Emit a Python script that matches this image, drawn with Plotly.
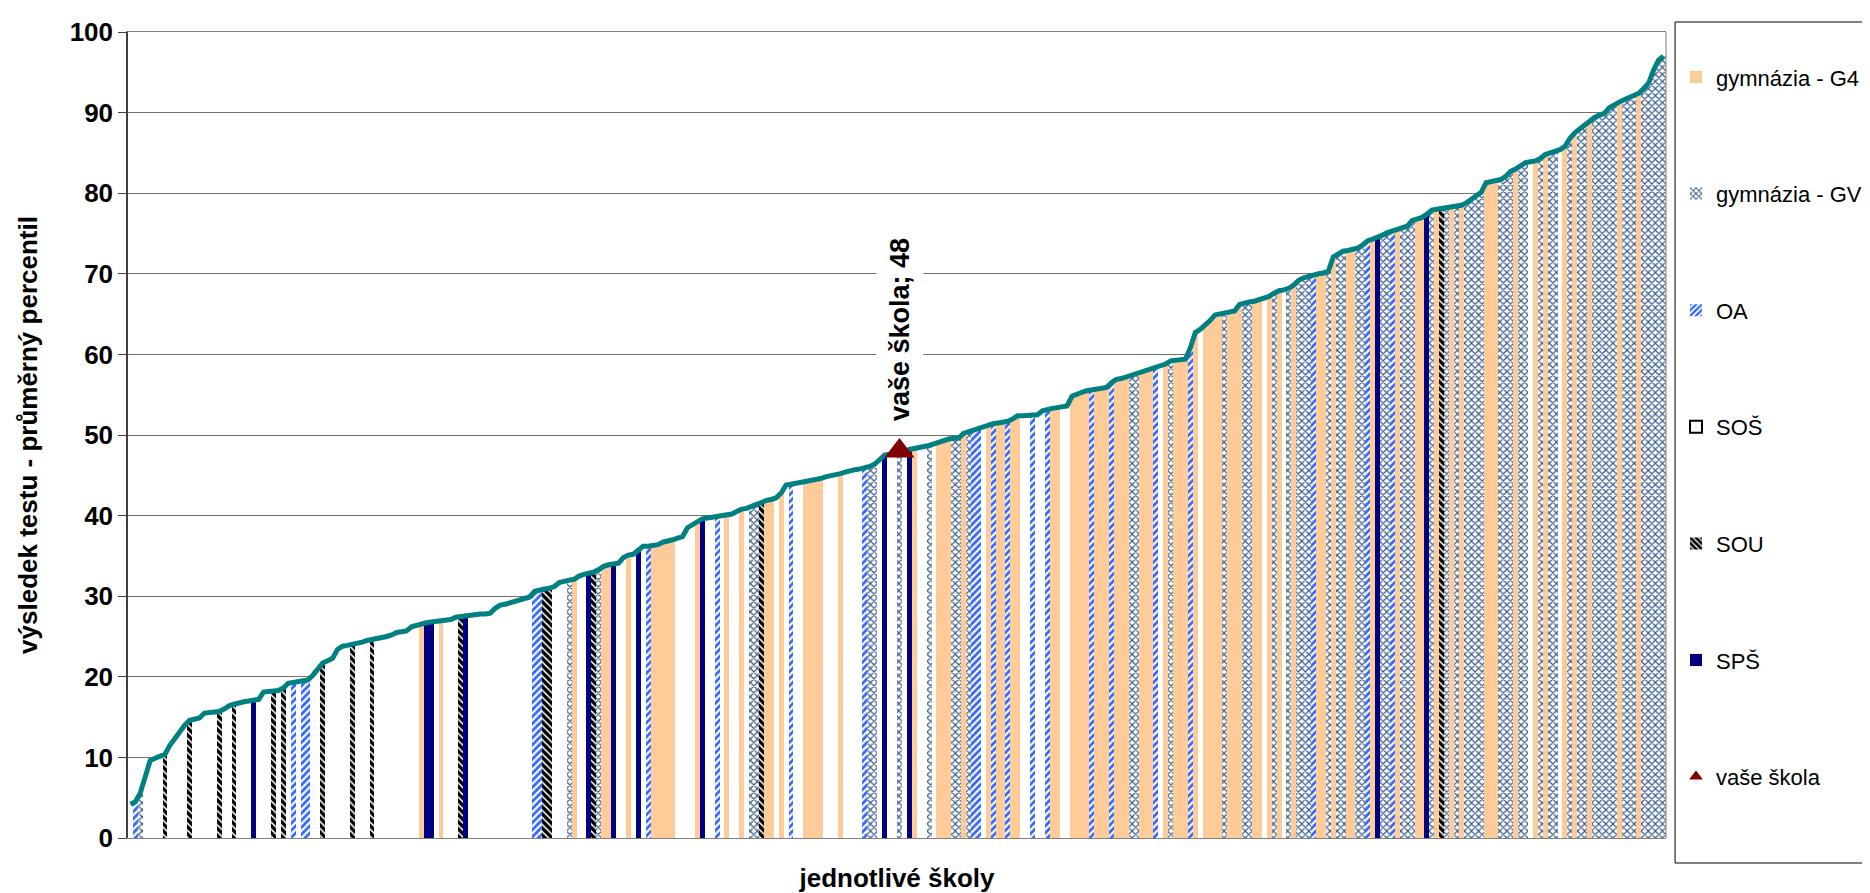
import plotly.graph_objects as go

# ---------------- data ----------------
# average percentile of each school, sorted ascending (one value per school)
school_scores = [
    4.2, 4.5, 5.6, 7.6, 9.6, 9.9, 10.1, 10.4, 11.5, 12.4,
    13.3, 14.0, 14.6, 14.8, 14.9, 15.5, 15.6, 15.7, 15.7, 16.0,
    16.4, 16.6, 16.8, 16.9, 17.0, 17.1, 17.2, 18.1, 18.2, 18.3,
    18.3, 18.6, 19.2, 19.3, 19.4, 19.5, 19.6, 20.2, 20.9, 21.7,
    22.0, 22.3, 23.4, 23.8, 23.9, 24.0, 24.2, 24.3, 24.5, 24.6,
    24.7, 24.9, 25.0, 25.2, 25.5, 25.6, 25.7, 26.2, 26.4, 26.5,
    26.7, 26.8, 26.9, 27.0, 27.0, 27.1, 27.4, 27.5, 27.6, 27.7,
    27.7, 27.8, 27.8, 27.9, 28.5, 28.9, 29.0, 29.2, 29.4, 29.5,
    29.7, 29.9, 30.6, 30.8, 30.9, 31.0, 31.2, 31.7, 31.9, 32.0,
    32.1, 32.5, 32.7, 32.8, 33.0, 33.3, 33.7, 33.9, 34.0, 34.1,
    34.8, 35.1, 35.2, 35.8, 36.2, 36.2, 36.3, 36.4, 36.7, 36.8,
    37.0, 37.2, 37.4, 38.5, 38.9, 39.3, 39.6, 39.7, 39.8, 39.9,
    40.0, 40.1, 40.2, 40.5, 40.8, 40.9, 41.2, 41.4, 41.6, 41.9,
    42.0, 42.2, 42.8, 43.8, 43.9, 44.0, 44.1, 44.2, 44.4, 44.5,
    44.6, 44.8, 44.9, 45.0, 45.2, 45.4, 45.6, 45.7, 45.8, 45.9,
    46.1, 46.4, 47.0, 47.5, 47.6, 47.7, 47.8, 48.0, 48.2, 48.3,
    48.4, 48.5, 48.7, 48.9, 49.1, 49.4, 49.5, 49.6, 49.6, 50.2,
    50.4, 50.6, 50.9, 51.0, 51.2, 51.4, 51.5, 51.6, 51.7, 52.0,
    52.4, 52.4, 52.4, 52.4, 52.5, 53.0, 53.2, 53.3, 53.4, 53.5,
    53.6, 54.8, 55.1, 55.3, 55.5, 55.6, 55.7, 55.8, 55.9, 56.5,
    56.9, 57.0, 57.2, 57.4, 57.6, 57.8, 58.1, 58.2, 58.4, 58.6,
    58.8, 59.2, 59.3, 59.3, 59.4, 60.8, 62.7, 63.1, 63.6, 64.2,
    64.9, 65.0, 65.1, 65.2, 65.4, 66.2, 66.4, 66.5, 66.6, 66.8,
    67.0, 67.2, 67.6, 67.9, 68.0, 68.2, 68.6, 69.2, 69.5, 69.7,
    69.9, 70.0, 70.1, 70.3, 72.1, 72.4, 72.8, 72.9, 73.0, 73.2,
    73.6, 74.1, 74.3, 74.5, 74.8, 75.1, 75.3, 75.5, 75.7, 75.9,
    76.6, 76.8, 77.0, 77.4, 77.9, 78.0, 78.1, 78.2, 78.3, 78.4,
    78.5, 78.8, 79.2, 79.6, 80.1, 81.3, 81.4, 81.5, 81.7, 82.1,
    82.7, 83.0, 83.4, 83.8, 83.9, 84.0, 84.3, 84.8, 85.0, 85.2,
    85.4, 85.8, 86.8, 87.5, 88.0, 88.3, 89.0, 89.4, 89.7, 89.9,
    90.6, 91.0, 91.3, 91.6, 91.9, 92.2, 92.4, 93.0, 93.7, 95.3,
    96.5, 97.0,
]

# school type of each school, same order (G=G4, V=GV, O=OA, S=SOŠ, U=SOU, P=SPŠ)
school_type_codes = (
    "SOVSSSSUSS" "SSUSSSSSUS" "SUSSSPSSSU" "SUSOSOOSSU" "SSSSSUSSSU"
    "SSSSSSSSSG" "PPSGSSSUPS" "SSSSSSSSSS" "SSOOUUSSSV" "GSSPUVGGPS"
    "SGSPSOGGGG" "GSSSSGPSSO" "SGSSGSVVUG" "GSGSOSSGGG" "GSSSGSSSSO"
    "VVSPSSVSPG" "SSVSGGGVVG" "VOOSGOGGOG" "GSSOSSOGGS" "SGGGGOGGGO"
    "GGGVVGGGOS" "GVGGGOGSGG" "GGVGGGVVGG" "SGVGSVGVVV" "OGGVGVVGGV"
    "VOGPVVOGVV" "VGGPVGUVGV" "GVVVVGGGVV" "VGVVSGVGVV" "SGVGVVGVVV"
    "VVGVVVGVVV" "VV"
)

type_order = ["G", "V", "O", "S", "U", "P"]
type_names = {
    "G": "gymnázia - G4",
    "V": "gymnázia - GV",
    "O": "OA",
    "S": "SOŠ",
    "U": "SOU",
    "P": "SPŠ",
}

your_school_name = "vaše škola"
your_school_rank = 157
your_school_score = 48

y_ticks = list(range(0, 101, 10))
x_title = "jednotlivé školy"
y_title = "výsledek testu - průměrný percentil"

# ---------------- styles ----------------
FONT = "Liberation Sans, Arial, sans-serif"
styles = {
    "G": dict(color="#FFCC99", pattern=dict(shape="")),
    "V": dict(color="white", pattern=dict(shape="x", fgcolor="#34598A", bgcolor="white",
                                          size=5, solidity=0.42, fgopacity=1)),
    "O": dict(color="white", pattern=dict(shape="/", fgcolor="#3366FF", bgcolor="white",
                                          size=5, solidity=0.55, fgopacity=1)),
    "S": dict(color="white", pattern=dict(shape="")),
    "U": dict(color="white", pattern=dict(shape="\\", fgcolor="#000000", bgcolor="white",
                                          size=5, solidity=0.7, fgopacity=1)),
    "P": dict(color="#000080", pattern=dict(shape="")),
}

ranks = list(range(1, len(school_scores) + 1))
codes = list(school_type_codes)

fig = go.Figure()

for code in type_order:
    xs = [r for r, c in zip(ranks, codes) if c == code]
    ys = [v for v, c in zip(school_scores, codes) if c == code]
    st = styles[code]
    fig.add_trace(go.Bar(
        x=xs, y=ys, width=1, name=type_names[code],
        marker=dict(color=st["color"], line=dict(width=0), pattern=st["pattern"]),
        legendgroup=code, showlegend=(code != "S"), hoverinfo="x+y+name",
    ))
    if code == "S":
        # legend swatch for SOŠ (white box with black outline)
        fig.add_trace(go.Bar(
            x=[-10], y=[0], width=1, name=type_names[code],
            marker=dict(color="white", line=dict(width=1, color="black")),
            legendgroup=code, showlegend=True, hoverinfo="skip",
        ))

fig.add_trace(go.Scatter(
    x=ranks, y=school_scores, mode="lines",
    line=dict(color="#008080", width=5),
    showlegend=False, hoverinfo="skip", legendgroup="line",
))

fig.add_trace(go.Scatter(
    x=[your_school_rank], y=[your_school_score], mode="markers",
    marker=dict(symbol="triangle-up", size=26, color="#800000"),
    name=your_school_name, legendgroup="you",
))

fig.add_annotation(
    x=your_school_rank, y=your_school_score, xref="x", yref="y",
    text=f"{your_school_name}; {your_school_score}",
    textangle=-90, showarrow=False, yanchor="bottom", xanchor="center",
    yshift=21, bgcolor="white", borderpad=8,
    font=dict(family=FONT, size=27, color="black", weight="bold"),
)

# plot-area right border and legend frame
fig.add_shape(type="line", xref="paper", yref="paper", x0=1, x1=1, y0=0, y1=1,
              line=dict(color="#808080", width=1))
fig.add_shape(type="rect", xref="paper", yref="paper",
              x0=1.0059, x1=1.25, y0=-0.031, y1=1.0124,
              line=dict(color="black", width=1), fillcolor="rgba(0,0,0,0)")

fig.update_layout(
    width=1870, height=893,
    margin=dict(l=120, r=212, t=24, b=63, autoexpand=False),
    plot_bgcolor="white", paper_bgcolor="white",
    barmode="overlay", bargap=0,
    font=dict(family=FONT, color="black"),
    showlegend=True,
    legend=dict(
        x=1.0065, xanchor="left", y=0.970, yanchor="top",
        font=dict(family=FONT, size=22, color="black"),
        tracegroupgap=85, bgcolor="rgba(0,0,0,0)", borderwidth=0,
        itemsizing="constant",
    ),
    xaxis=dict(
        range=[0.5, len(school_scores) + 0.5],
        showticklabels=False, ticks="", showgrid=False, zeroline=False,
        showline=True, mirror=True, linecolor="#808080", linewidth=1,
        title=dict(text=x_title, standoff=30,
                   font=dict(family=FONT, size=26, color="black", weight="bold")),
    ),
    yaxis=dict(
        range=[0, 100], tickvals=y_ticks, showgrid=True, gridcolor="#707070", gridwidth=1,
        zeroline=False, showline=True, linecolor="#404040", linewidth=1.5,
        ticks="outside", ticklen=8, tickcolor="#404040",
        tickfont=dict(family=FONT, size=26, color="black", weight="bold"),
        title=dict(text=y_title, standoff=25,
                   font=dict(family=FONT, size=26, color="black", weight="bold")),
    ),
)

fig.write_html("out.html")
